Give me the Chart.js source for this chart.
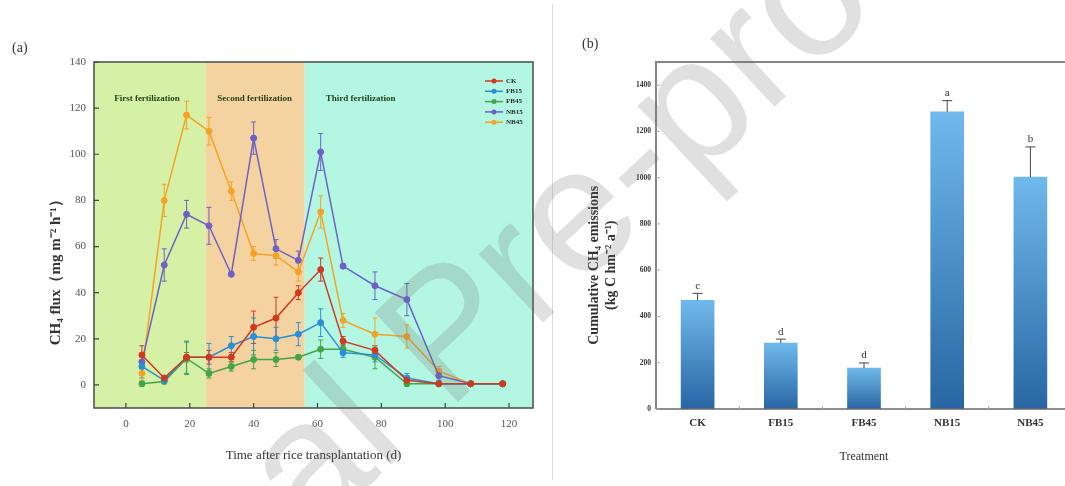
<!DOCTYPE html>
<html><head><meta charset="utf-8">
<script src="https://cdn.jsdelivr.net/npm/chart.js@4.4.1/dist/chart.umd.min.js"></script>
<style>
html,body{margin:0;padding:0;background:#fff;overflow:hidden;width:1065px;height:486px;}
#wrap{position:relative;width:1065px;height:486px;overflow:hidden;}
#ca{position:absolute;left:0;top:0;}
#cb{position:absolute;left:556px;top:0;}
.lab{position:absolute;font-family:"Liberation Serif",serif;font-size:14px;color:#333;line-height:16px;}
#sep{position:absolute;left:552px;top:4px;width:1px;height:476px;background:#dcdcdc;}
#wm{position:absolute;left:445px;top:330px;transform:translate(-50%,-50%) rotate(-43deg);font-family:"Liberation Sans",Arial,sans-serif;font-size:178px;color:rgba(110,110,110,0.21);white-space:nowrap;pointer-events:none;}
</style></head>
<body><div id="wrap">
<canvas id="ca" width="545" height="486"></canvas>
<canvas id="cb" width="530" height="486"></canvas>
<div id="sep"></div>
<div class="lab" style="left:12px;top:40px">(a)</div>
<div class="lab" style="left:582px;top:36px">(b)</div>
<div id="wm">Journal Pre-proof</div>
</div>
<script>
// ---------- data, panel (a) ----------
const days = [5,12,19,26,33,40,47,54,61,68,78,88,98,108,118];
const seriesNames = ['CK','FB15','FB45','NB15','NB45'];
const ckFlux   = [13,3,12,12,12,25,29,40,50,19,15,2,0.5,0.5,0.5];
const ckErr    = [4,1,2,3,2,7,9,3,5,2,2,1,0.5,0.3,0.3];
const fb15Flux = [8,2,12,12,17,21,20,22,27,14,13,3,0.5,0.5,0.5];
const fb15Err  = [5,1,7,6,4,8,5,5,6,2,3,2,0.5,0.3,0.3];
const fb45Flux = [0.5,1.5,11.5,5,8,11,11,12,15.5,15.5,12,0.5,0.5,0.5,0.5];
const fb45Err  = [1,1,7,2,2,4,3,1,4,2,5,1,0.5,0.3,0.3];
const nb15Flux = [10,52,74,69,48,107,59,54,101,51.5,43,37,4,0.5,0.5];
const nb15Err  = [3,7,6,8,1,7,4,4,8,1,6,7,2,0.5,0.3];
const nb45Flux = [5,80,117,110,84,57,56,49,75,28,22,21,6,0.5,0.5];
const nb45Err  = [3,7,6,6,4,3,4,4,7,3,7,5,2,0.5,0.3];
const phaseBounds = [-10,25,56,127.5];
const phaseNames = ['First fertilization','Second fertilization','Third fertilization'];
const fluxTicks = [0,20,40,60,80,100,120,140];
const dayTicks = [0,20,40,60,80,100,120];

// ---------- data, panel (b) ----------
const treatments = ['CK','FB15','FB45','NB15','NB45'];
const cumulative = [470,285,177,1285,1003];
const cumulativeErr = [30,17,22,48,130];
const letters = ['c','d','d','a','b'];
const cumTicks = [0,200,400,600,800,1000,1200,1400];

const serif = '"Liberation Serif","Times New Roman",serif';
const NB = '\u00a0';
const colorsA = ['#d0381f','#2a8fd4','#44a548','#6c61c6','#f4a326'];
const fluxSets = [ckFlux,fb15Flux,fb45Flux,nb15Flux,nb45Flux];
const errSets = [ckErr,fb15Err,fb45Err,nb15Err,nb45Err];

const panelA = {
  id:'panelA',
  beforeDatasetsDraw(chart){
    const {ctx, chartArea:a, scales:{x,y}} = chart;
    ctx.save();
    const bg = ['#d6f0a6','#f5d3a0','#b3f7e2'];
    for(let i=0;i<3;i++){
      const x0 = Math.max(a.left, x.getPixelForValue(phaseBounds[i]));
      const x1 = Math.min(a.right, x.getPixelForValue(phaseBounds[i+1]));
      ctx.fillStyle = bg[i];
      ctx.fillRect(x0, a.top, x1-x0, a.bottom-a.top);
    }
    const labX = [6.6,40.3,73.5];
    ctx.font = 'bold 9px '+serif;
    ctx.fillStyle = '#24421c';
    ctx.textAlign='center'; ctx.textBaseline='middle';
    phaseNames.forEach((t,i)=>ctx.fillText(t, x.getPixelForValue(labX[i]), y.getPixelForValue(124)));
    // error bars
    chart.data.datasets.forEach((ds,i)=>{
      ctx.strokeStyle = ds.borderColor; ctx.lineWidth = 1;
      ds.data.forEach((p,j)=>{
        const e = ds.errors[j];
        const px = x.getPixelForValue(p.x);
        const t = y.getPixelForValue(p.y+e), b = y.getPixelForValue(p.y-e);
        ctx.beginPath();
        ctx.moveTo(px,t); ctx.lineTo(px,b);
        ctx.moveTo(px-2.5,t); ctx.lineTo(px+2.5,t);
        ctx.moveTo(px-2.5,b); ctx.lineTo(px+2.5,b);
        ctx.stroke();
      });
    });
    ctx.restore();
  },
  afterDatasetsDraw(chart){
    const {ctx, chartArea:a, scales:{x,y}} = chart;
    ctx.save();
    ctx.strokeStyle='#4f5858'; ctx.lineWidth=1.6;
    ctx.strokeRect(a.left, a.top, a.right-a.left, a.bottom-a.top);
    ctx.lineWidth=1.2; ctx.strokeStyle='#3c4444';
    ctx.beginPath();
    dayTicks.forEach(v=>{const px=x.getPixelForValue(v); ctx.moveTo(px,a.bottom); ctx.lineTo(px,a.bottom-5);});
    fluxTicks.forEach(v=>{const py=y.getPixelForValue(v); ctx.moveTo(a.left,py); ctx.lineTo(a.left+5,py);});
    ctx.stroke();
    // legend
    ctx.font='bold 7px '+serif; ctx.textAlign='left'; ctx.textBaseline='middle';
    chart.data.datasets.forEach((ds,i)=>{
      const yy = a.top+19+i*10.3;
      const x0 = a.right-48, x1 = a.right-30;
      ctx.strokeStyle=ds.borderColor; ctx.lineWidth=1.5;
      ctx.beginPath(); ctx.moveTo(x0,yy); ctx.lineTo(x1,yy); ctx.stroke();
      ctx.fillStyle=ds.borderColor; ctx.beginPath(); ctx.arc((x0+x1)/2,yy,2.5,0,Math.PI*2); ctx.fill();
      ctx.fillStyle='#2a2a2a'; ctx.fillText(ds.label, a.right-27, yy);
    });
    ctx.restore();
  }
};

new Chart(document.getElementById('ca'), {
  type:'line',
  data:{datasets: seriesNames.map((n,i)=>({
    label:n,
    data: days.map((d,j)=>({x:d, y:fluxSets[i][j]})),
    errors: errSets[i],
    borderColor: colorsA[i], backgroundColor: colorsA[i],
    borderWidth:1.5, pointRadius:3, pointBorderWidth:1, tension:0
  }))},
  options:{
    responsive:false, animation:false, devicePixelRatio:1,
    layout:{padding:{left:0,right:12,top:62,bottom:0}},
    plugins:{legend:{display:false}, tooltip:{enabled:false}},
    scales:{
      x:{type:'linear', min:-10, max:127.5,
        afterBuildTicks:s=>{s.ticks=dayTicks.map(v=>({value:v}));},
        afterFit:s=>{s.height=78;},
        grid:{display:false, drawTicks:false}, border:{display:false},
        ticks:{font:{family:serif,size:11}, color:'#555', padding:10, maxRotation:0},
        title:{display:true, text:'Time after rice transplantation (d)', font:{family:serif,size:13}, color:'#333', padding:{top:0,bottom:23}}
      },
      y:{min:-10, max:140,
        afterBuildTicks:s=>{s.ticks=fluxTicks.map(v=>({value:v}));},
        afterFit:s=>{s.width=94;},
        grid:{display:false, drawTicks:false}, border:{display:false},
        ticks:{font:{family:serif,size:11}, color:'#555', padding:8},
        title:{display:true, text:'CH₄ flux（mg m⁻² h⁻¹）'+NB.repeat(18), font:{family:serif,size:15,weight:'bold'}, color:'#333', padding:{top:47,bottom:0}}
      }
    }
  },
  plugins:[panelA]
});

const panelB = {
  id:'panelB',
  afterDatasetsDraw(chart){
    const {ctx, chartArea:a, scales:{x,y}} = chart;
    const ds = chart.data.datasets[0];
    const meta = chart.getDatasetMeta(0);
    ctx.save();
    ctx.strokeStyle='#444'; ctx.lineWidth=1;
    ctx.font='11px '+serif; ctx.fillStyle='#333'; ctx.textAlign='center'; ctx.textBaseline='bottom';
    meta.data.forEach((bar,i)=>{
      const v=ds.data[i], e=ds.errors[i];
      const py0=y.getPixelForValue(v), py1=y.getPixelForValue(v+e);
      ctx.beginPath(); ctx.moveTo(bar.x,py0); ctx.lineTo(bar.x,py1);
      ctx.moveTo(bar.x-5,py1); ctx.lineTo(bar.x+5,py1); ctx.stroke();
      ctx.fillText(ds.letters[i], bar.x, py1-2);
    });
    // frame
    ctx.strokeStyle='#858585'; ctx.lineWidth=2;
    ctx.beginPath(); ctx.moveTo(a.left,a.bottom); ctx.lineTo(a.left,a.top); ctx.lineTo(a.right,a.top); ctx.stroke();
    ctx.strokeStyle='#6a6a6a'; ctx.lineWidth=1.5;
    ctx.beginPath(); ctx.moveTo(a.left,a.bottom); ctx.lineTo(a.right,a.bottom); ctx.stroke();
    ctx.strokeStyle='#aaa'; ctx.lineWidth=1;
    ctx.beginPath();
    cumTicks.forEach(v=>{const py=y.getPixelForValue(v); ctx.moveTo(a.left,py); ctx.lineTo(a.left+4,py);});
    for(let i=0;i<treatments.length-1;i++){const px=(x.getPixelForValue(i)+x.getPixelForValue(i+1))/2; ctx.moveTo(px,a.bottom); ctx.lineTo(px,a.bottom-3);}
    ctx.stroke();
    ctx.restore();
  }
};

new Chart(document.getElementById('cb'), {
  type:'bar',
  data:{labels:treatments, datasets:[{
    label:'Cumulative CH₄ emissions',
    data:cumulative, errors:cumulativeErr, letters:letters,
    barThickness:33, borderWidth:0,
    backgroundColor:(c)=>{
      const ch=c.chart, ys=ch.scales.y;
      if(!ys || !ch.chartArea || c.raw===undefined) return '#4a90c8';
      const top=ys.getPixelForValue(c.raw), bot=ys.getPixelForValue(0);
      if(!isFinite(top)||!isFinite(bot)||top===bot) return '#4a90c8';
      const g=ch.ctx.createLinearGradient(0,top,0,bot);
      g.addColorStop(0,'#6fb9ec'); g.addColorStop(1,'#2866a2');
      return g;
    }
  }]},
  options:{
    responsive:false, animation:false, devicePixelRatio:1,
    layout:{padding:{left:0,right:14,top:62,bottom:0}},
    plugins:{legend:{display:false}, tooltip:{enabled:false}},
    scales:{
      x:{afterFit:s=>{s.height=77;},
        grid:{display:false, drawTicks:false}, border:{display:false},
        ticks:{font:{family:serif,size:11,weight:'bold'}, color:'#333', padding:8},
        title:{display:true, text:'Treatment', font:{family:serif,size:12}, color:'#333', padding:{top:0,bottom:22}}
      },
      y:{min:0, max:1500,
        afterBuildTicks:s=>{s.ticks=cumTicks.map(v=>({value:v}));},
        afterFit:s=>{s.width=100;},
        grid:{display:false, drawTicks:false}, border:{display:false},
        ticks:{font:{family:serif,size:7.5,weight:'bold'}, color:'#333', padding:5, callback:v=>String(v)},
        title:{display:true, text:['Cumulative CH₄ emissions'+NB.repeat(17),'(kg C hm⁻² a⁻¹)'+NB.repeat(17)], font:{family:serif,size:14,weight:'bold',lineHeight:1.2}, color:'#333', padding:{top:30,bottom:0}}
      }
    }
  },
  plugins:[panelB]
});
</script>
</body></html>
